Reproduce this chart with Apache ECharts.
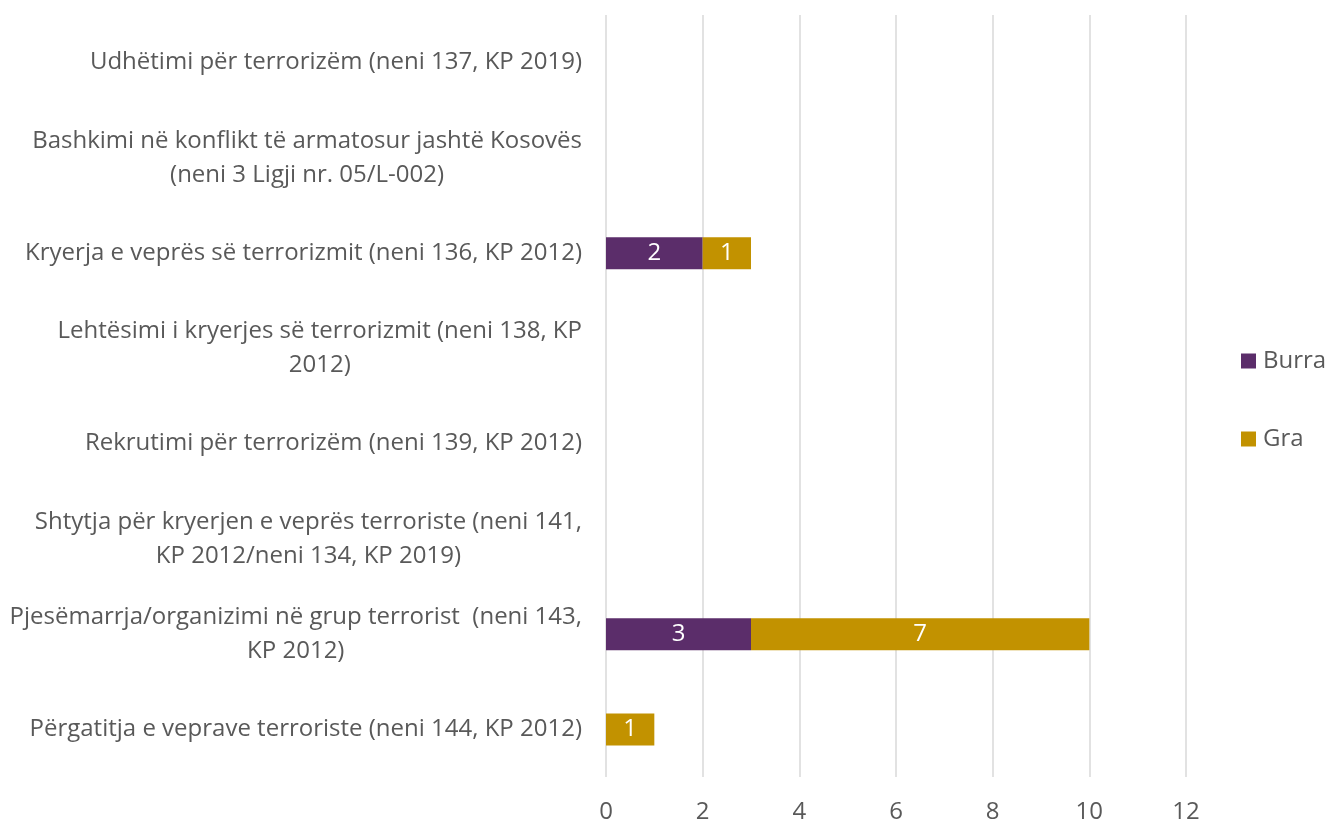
<!DOCTYPE html>
<html><head><meta charset="utf-8">
<script src="https://cdn.jsdelivr.net/npm/echarts@6/dist/echarts.min.js"></script>
<style>html,body{margin:0;padding:0;background:#fff}#c{width:1329px;height:821px}</style>
</head><body><div id="c"></div>
<script>
const categories = [
  "Udhëtimi për terrorizëm (neni 137, KP 2019)",
  "Bashkimi në konflikt të armatosur jashtë Kosovës\n(neni 3 Ligji nr. 05/L-002)",
  "Kryerja e veprës së terrorizmit (neni 136, KP 2012)",
  "Lehtësimi i kryerjes së terrorizmit (neni 138, KP\n2012)",
  "Rekrutimi për terrorizëm (neni 139, KP 2012)",
  "Shtytja për kryerjen e veprës terroriste (neni 141,\nKP 2012/neni 134, KP 2019)",
  "Pjesëmarrja/organizimi në grup terrorist  (neni 143,\nKP 2012)",
  "Përgatitja e veprave terroriste (neni 144, KP 2012)"
];
const burra = [0, 0, 2, 0, 0, 0, 3, 0];
const gra = [0, 0, 1, 0, 0, 0, 7, 1];
const xTicks = [0, 2, 4, 6, 8, 10, 12];

const chart = echarts.init(document.getElementById('c'));
const font = "'Open Sans', sans-serif";
const FS = 24;
const lbl = {
  show: true, color: '#fff', fontSize: FS, fontFamily: font,
  formatter: p => p.value ? String(p.value) : ''
};
chart.setOption({
  animation: false,
  textStyle: { fontFamily: font },
  grid: { left: 606, right: 143, top: 15, bottom: 44, containLabel: false, outerBoundsMode: 'none' },
  legend: {
    orient: 'vertical', left: 1241, top: 349, padding: 0,
    itemWidth: 15, itemHeight: 15, itemGap: 54,
    icon: 'rect',
    textStyle: { fontSize: FS, color: '#595959', fontFamily: font, padding: [0, 0, 0, 2] },
    data: ['Burra', 'Gra']
  },
  xAxis: {
    type: 'value', min: xTicks[0], max: xTicks[xTicks.length - 1], interval: 2,
    axisLine: { show: false }, axisTick: { show: false },
    splitLine: { show: true, lineStyle: { color: '#d9d9d9', width: 1.5 } },
    axisLabel: { fontSize: FS, color: '#595959', margin: 23, fontFamily: font }
  },
  yAxis: {
    type: 'category', inverse: true, data: categories,
    axisLine: { show: false }, axisTick: { show: false },
    axisLabel: {
      fontSize: FS, color: '#595959', margin: 24, fontFamily: font, lineHeight: 34,
      formatter: v => v.split('\n').map(s => '{c|' + s + '}').join('\n'),
      rich: { c: { align: 'center', fontSize: FS, color: '#595959', lineHeight: 34, fontFamily: font } }
    }
  },
  series: [
    { name: 'Burra', type: 'bar', stack: 's', data: burra, barWidth: 32,
      itemStyle: { color: '#5B2D6A' }, label: lbl },
    { name: 'Gra', type: 'bar', stack: 's', data: gra, barWidth: 32,
      itemStyle: { color: '#C29200' }, label: lbl }
  ]
});
</script></body></html>
